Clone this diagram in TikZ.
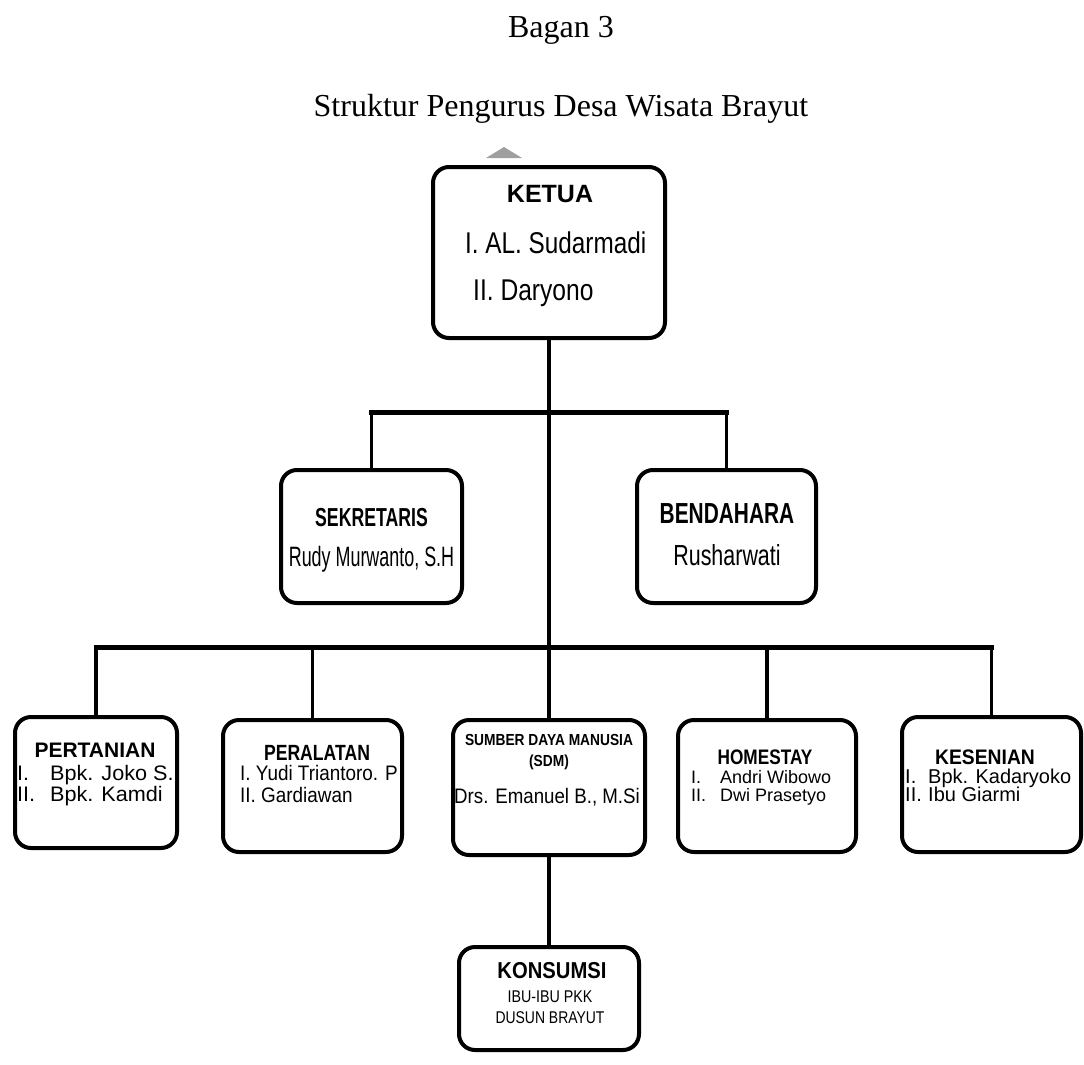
\documentclass[tikz,border=0pt]{standalone}
\usepackage{fontspec}
\setmainfont{Liberation Serif}
\newfontfamily\af{Liberation Sans}
\newcommand{\tf}[2]{\af\fontsize{#1}{#1}\selectfont\addfontfeature{FakeStretch=#2}}
\begin{document}
\begin{tikzpicture}[x=1pt,y=-1pt,
  box/.style={draw, line width=4pt, rounded corners=16pt, inner sep=0pt, fill=white},
  conn/.style={line width=3.5pt},
  bar/.style={line width=5pt, line cap=rect},
  lbl/.style={inner sep=0pt, anchor=base},
  lblw/.style={inner sep=0pt, anchor=base west},
  ttl/.style={inner sep=0pt, anchor=base, font=\fontsize{32}{32}\selectfont}]
\useasboundingbox[fill=white] (0,0) rectangle (1084,1065);

% titles
\node[ttl] (t1) at (561,38) {Bagan 3};
\node[ttl] (t2) at (561,116) {Struktur Pengurus Desa Wisata Brayut};
\fill[gray!75] (486,158) -- (504,147) -- (522,158) -- cycle;

% boxes
\node[box, minimum width=232pt, minimum height=171pt] (ketua) at (549,252.5) {};
\node[box, minimum width=181pt, minimum height=133pt] (sek) at (371.5,536.5) {};
\node[box, minimum width=179pt, minimum height=133pt] (ben) at (726.5,536.5) {};
\node[box, minimum width=162pt, minimum height=131pt] (pert) at (96,782.5) {};
\node[box, minimum width=179pt, minimum height=132pt] (peral) at (312.5,786) {};
\node[box, minimum width=192pt, minimum height=135pt] (sdm) at (549,787.5) {};
\node[box, minimum width=178pt, minimum height=132pt] (home) at (767,786) {};
\node[box, minimum width=179pt, minimum height=135pt] (kes) at (991.5,784.5) {};
\node[box, minimum width=180pt, minimum height=103pt] (kon) at (549,998.5) {};

% connectors
\coordinate (j1) at (549,412);
\coordinate (j2) at (549,647);
\draw[conn] (ketua.south) -- (sdm.north);
\draw[conn] (sdm.south) -- (kon.north);
\draw[bar] (sek.north |- j1) -- (ben.north |- j1);
\draw[conn] (sek.north |- j1) -- (sek.north);
\draw[conn] (ben.north |- j1) -- (ben.north);
\draw[bar] (pert.north |- j2) -- (kes.north |- j2);
\draw[conn] (pert.north |- j2) -- (pert.north);
\draw[conn] (peral.north |- j2) -- (peral.north);
\draw[conn] (home.north |- j2) -- (home.north);
\draw[conn] (kes.north |- j2) -- (kes.north);

% KETUA
\node[lbl] (k1) at (550,202) {\tf{25}{1.0}\bfseries KETUA};
\node[lblw] (k2) at (465,253) {\tf{30}{0.81}I. AL. Sudarmadi};
\node[lblw] (k3) at (473,300) {\tf{30}{0.82}II. Daryono};

% SEKRETARIS / BENDAHARA
\node[lbl] (s1) at (371.5,526) {\tf{26}{0.68}\bfseries SEKRETARIS};
\node[lbl] (s2) at (371.5,566) {\tf{28}{0.64}Rudy Murwanto, S.H};
\node[lbl] (b1) at (727,523) {\tf{29}{0.72}\bfseries BENDAHARA};
\node[lbl] (b2) at (727,565) {\tf{29}{0.74}Rusharwati};

% PERTANIAN
\node[lbl] (p1) at (95,757) {\tf{21}{1.0}\bfseries PERTANIAN};
\node[lblw] (p2) at (17,780) {\tf{21}{1.03}I.};
\node[lblw] (p3) at (50,780) {\tf{21}{1.03}Bpk. Joko S.};
\node[lblw] (p4) at (17,801) {\tf{21}{1.03}II.};
\node[lblw] (p5) at (50,801) {\tf{21}{1.03}Bpk. Kamdi};

% PERALATAN
\node[lbl] (r1) at (317,760) {\tf{22}{0.8}\bfseries PERALATAN};
\node[lblw] (r2) at (240,780) {\tf{21}{0.9}I. Yudi Triantoro. P};
\node[lblw] (r3) at (240,802) {\tf{21}{0.9}II. Gardiawan};

% SDM
\node[lbl] (d1) at (549,745) {\tf{16}{0.86}\bfseries SUMBER DAYA MANUSIA};
\node[lbl] (d2) at (549,766) {\tf{16}{0.86}\bfseries (SDM)};
\node[lbl] (d3) at (547,803) {\tf{21}{0.89}Drs. Emanuel B., M.Si};

% HOMESTAY
\node[lbl] (h1) at (765,764) {\tf{21}{0.82}\bfseries HOMESTAY};
\node[lblw] (h2) at (691,783) {\tf{18}{1.0}I.};
\node[lblw] (h3) at (720,783) {\tf{18}{1.0}Andri Wibowo};
\node[lblw] (h4) at (691,801) {\tf{18}{1.0}II.};
\node[lblw] (h5) at (720,801) {\tf{18}{1.0}Dwi Prasetyo};

% KESENIAN
\node[lbl] (e1) at (985,764) {\tf{21}{0.92}\bfseries KESENIAN};
\node[lblw] (e2) at (905,783) {\tf{20}{1.0}I.};
\node[lblw] (e3) at (928,783) {\tf{20}{1.0}Bpk. Kadaryoko};
\node[lblw] (e4) at (905,801) {\tf{20}{1.0}II.};
\node[lblw] (e5) at (928,801) {\tf{20}{1.0}Ibu Giarmi};

% KONSUMSI
\node[lbl] (c1) at (552,978) {\tf{23}{0.88}\bfseries KONSUMSI};
\node[lbl] (c2) at (550,1002) {\tf{17}{0.84}IBU-IBU PKK};
\node[lbl] (c3) at (550,1023) {\tf{17}{0.82}DUSUN BRAYUT};
\end{tikzpicture}
\end{document}
